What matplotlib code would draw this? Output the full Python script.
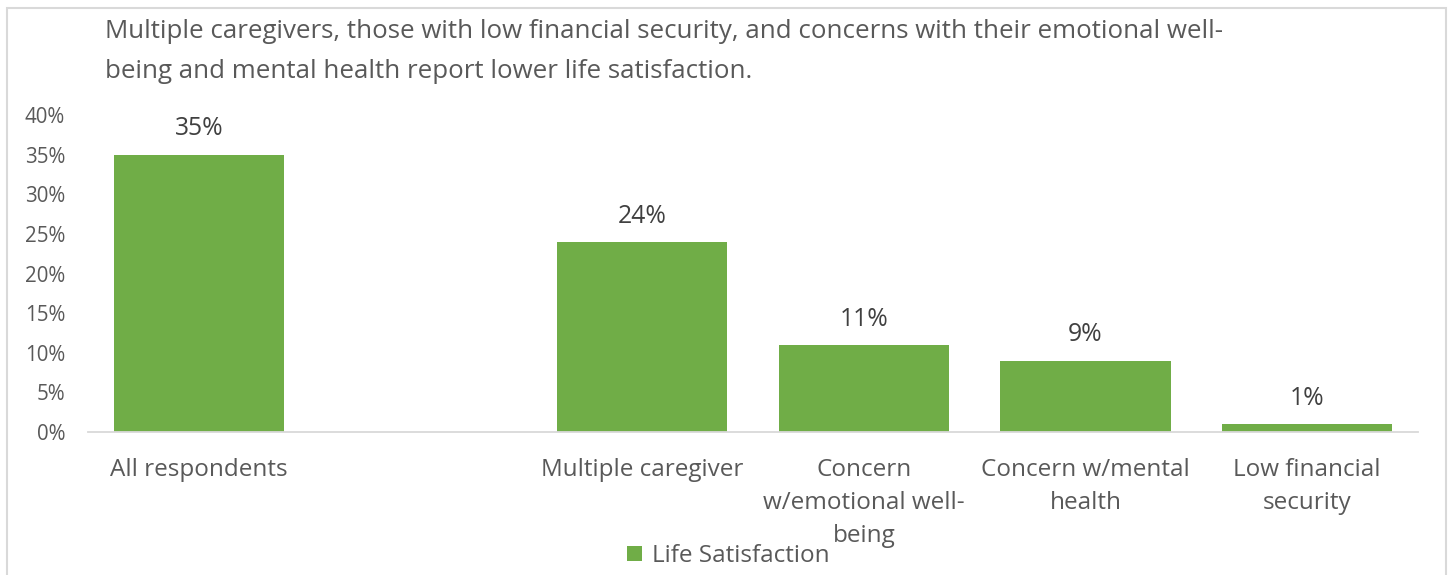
import matplotlib.pyplot as plt
import numpy as np
from matplotlib.patches import Rectangle
from matplotlib.ticker import FuncFormatter

plt.rcParams["font.family"] = ["Open Sans", "DejaVu Sans"]

# survey groups (slot 1 is left empty as a spacer)
groups = ["All respondents", "", "Multiple caregiver",
          "Concern\nw/emotional well-\nbeing", "Concern w/mental\nhealth",
          "Low financial\nsecurity"]
life_satisfaction = [35, np.nan, 24, 11, 9, 1]
series_name = "Life Satisfaction"
title = ("Multiple caregivers, those with low financial security, and concerns with their emotional well-\n"
         "being and mental health report lower life satisfaction.")

green = "#70ad47"
grey_text = "#595959"
border = "#d9d9d9"

W, H = 1448, 575
fig = plt.figure(figsize=(W / 100, H / 100), dpi=100)
ax = fig.add_axes([88 / W, 1 - 432 / H, 1330 / W, 317 / H])

x = np.arange(len(groups))
bars = ax.bar(x, life_satisfaction, width=0.767, color=green, label=series_name)

for xi, v in zip(x, life_satisfaction):
    if np.isnan(v):
        continue
    ax.annotate("%d%%" % v, (xi, v), xytext=(0, 18.5), textcoords="offset points",
                ha="center", va="center", fontsize=17.8, color="#404040")

ax.set_xlim(-0.5, len(groups) - 0.5)
ax.set_ylim(0, 40)
ax.set_yticks(np.arange(0, 41, 5))
ax.yaxis.set_major_formatter(FuncFormatter(lambda y, pos: "%d%%" % y))
ax.set_xticks(x)
ax.set_xticklabels(groups, linespacing=1.5)
ax.tick_params(axis="y", length=0, pad=16.5, labelsize=14.8, labelcolor=grey_text)
ax.tick_params(axis="x", length=0, pad=19, labelsize=17.5, labelcolor=grey_text)

for side in ["top", "right", "left"]:
    ax.spines[side].set_visible(False)
ax.spines["bottom"].set_color(border)
ax.spines["bottom"].set_linewidth(1.3)
ax.patch.set_alpha(0)

fig.text(105 / W, 1 - 19 / H, title, ha="left", va="top", fontsize=18.6,
         color=grey_text, linespacing=1.78)

leg = fig.legend(handles=[bars], labels=[series_name], loc="center",
                 bbox_to_anchor=(728 / W, 1 - 556 / H), frameon=False,
                 fontsize=17.5, handlelength=0.62, handleheight=0.62,
                 handletextpad=0.4, labelcolor=grey_text)

# chart frame
fig.patches.append(Rectangle((7 / W, -0.02), 1439 / W, 1.02 - 8 / H,
                             transform=fig.transFigure, fill=False,
                             edgecolor=border, linewidth=1.5))

fig.savefig("out.png", dpi=100)
